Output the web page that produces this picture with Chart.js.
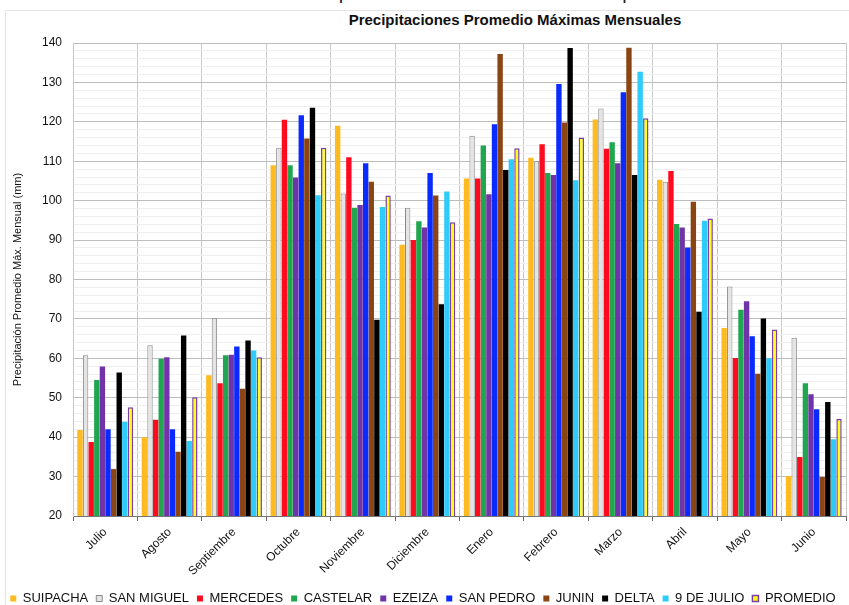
<!DOCTYPE html>
<html>
<head>
<meta charset="utf-8">
<script src="https://cdn.jsdelivr.net/npm/chart.js@4.4.1/dist/chart.umd.min.js"></script>
<style>
    html, body { margin: 0; padding: 0; width: 849px; height: 605px; overflow: hidden; background: #fff; font-family: 'Liberation Sans', Arial, sans-serif; }
    #frame { position: absolute; left: 5px; top: 10px; width: 900px; height: 700px; border-left: 1px solid #e4e4e4; border-top: 1px solid #e4e4e4; }
    #caption { position: absolute; top: -19px; left: 0; width: 900px; text-align: center; font-size: 20px; color: #222; white-space: nowrap; }
    #title { position: absolute; top: 11px; left: 0; width: 1030px; text-align: center; font-weight: bold; font-size: 15px; color: #111; white-space: nowrap; }
    #wrap { position: absolute; left: 0; top: 0; width: 849px; height: 615px; }
</style>
</head>
<body>
<div id="caption">Gráfico 1 - Precipitaciones máximas mensuales promedio</div>
<div id="frame"></div>
<div id="title">Precipitaciones Promedio Máximas Mensuales</div>
<div id="wrap"><canvas id="precipChart"></canvas></div>
<script>
// Datos (mm)
const meses = ['Julio', 'Agosto', 'Septiembre', 'Octubre', 'Noviembre', 'Diciembre',
               'Enero', 'Febrero', 'Marzo', 'Abril', 'Mayo', 'Junio'];

const suipacha  = [41.8, 40.0, 55.7, 109.0, 119.0, 88.8, 105.6, 110.9, 120.6, 105.3, 67.7, 30.1];
const sanMiguel = [60.8, 63.3, 70.2, 113.4, 101.8, 98.2, 116.5, 110.0, 123.4, 104.8, 78.2, 65.2];
const mercedes  = [38.8, 44.4, 53.7, 120.5, 111.0, 90.0, 105.6, 114.3, 113.2, 107.5, 60.1, 35.0];
const castelar  = [54.5, 59.9, 60.8, 109.0, 98.2, 94.8, 114.0, 107.0, 114.8, 94.1, 72.3, 53.7];
const ezeiza    = [57.9, 60.3, 60.9, 105.9, 98.9, 93.2, 101.6, 106.5, 109.5, 93.2, 74.5, 50.9];
const sanPedro  = [42.0, 42.0, 63.0, 121.7, 109.5, 107.0, 119.4, 129.6, 127.5, 88.1, 65.6, 47.1];
const junin     = [31.9, 36.3, 52.3, 115.8, 104.8, 101.3, 137.2, 119.8, 138.8, 99.7, 56.1, 29.9];
const delta     = [56.4, 65.8, 64.5, 123.6, 69.8, 73.7, 107.8, 138.7, 106.5, 71.8, 70.1, 48.9];
const nueveJulio = [43.9, 39.0, 62.0, 101.4, 98.4, 102.3, 110.5, 105.2, 132.7, 94.9, 60.0, 39.5];
const promedio  = [47.6, 50.1, 60.3, 113.4, 101.3, 94.5, 113.3, 116.0, 120.9, 95.5, 67.3, 44.6];

const FONT = "'Liberation Sans', Arial, sans-serif";

const serie = (label, data, bg, border, bw) => ({
    label: label,
    data: data,
    backgroundColor: bg,
    borderColor: border || bg,
    borderWidth: bw || 0,
    borderSkipped: false,
    categoryPercentage: 0.87,
    barPercentage: 0.96
});

const datasets = [
    serie('SUIPACHA', suipacha, '#FDBA21'),
    serie('SAN MIGUEL', sanMiguel, '#E4E4E4', '#8A8A8A', 1),
    serie('MERCEDES', mercedes, '#FF0A1E'),
    serie('CASTELAR', castelar, '#21A650'),
    serie('EZEIZA', ezeiza, '#7034A8'),
    serie('SAN PEDRO', sanPedro, '#0A2BFF'),
    serie('JUNIN', junin, '#8B4513'),
    serie('DELTA', delta, '#000000'),
    serie('9 DE JULIO', nueveJulio, '#2ECCFA'),
    serie('PROMEDIO', promedio, '#FFFF1A', '#7B3FA6', 1.5)
];

new Chart(document.getElementById('precipChart'), {
    type: 'bar',
    data: { labels: meses, datasets: datasets },
    options: {
        responsive: true,
        maintainAspectRatio: false,
        animation: false,
        layout: { padding: { top: 43, right: 3, left: 0, bottom: 0 } },
        plugins: {
            legend: {
                position: 'bottom',
                labels: {
                    boxWidth: 6,
                    boxHeight: 6,
                    padding: 8,
                    color: '#111',
                    font: { family: FONT, size: 13 }
                }
            },
            tooltip: { enabled: false }
        },
        scales: {
            x: {
                grid: { offset: true, color: '#c8c8c8', tickLength: 5, tickColor: '#666' },
                border: { color: '#777' },
                ticks: {
                    color: '#111',
                    minRotation: 45,
                    maxRotation: 45,
                    padding: 4,
                    font: { family: FONT, size: 12 }
                },
                afterFit: (scale) => { scale.height = 68; }
            },
            y: {
                min: 20,
                max: 140,
                grid: {
                    drawTicks: false,
                    color: (ctx) => (ctx.tick && ctx.tick.value % 10 === 0) ? '#bdbdbd' : '#efefef'
                },
                border: { color: '#c8c8c8' },
                ticks: {
                    stepSize: 2,
                    autoSkip: false,
                    padding: 11,
                    color: '#111',
                    font: { family: FONT, size: 12 },
                    callback: (val) => val % 10 === 0 ? val : ''
                },
                title: {
                    display: true,
                    text: 'Precipitación Promedio Máx. Mensual (mm)',
                    color: '#111',
                    padding: { top: 11, bottom: 0 },
                    font: { family: FONT, size: 11 }
                },
                afterFit: (scale) => { scale.width = 73; }
            }
        }
    }
});
</script>
</body>
</html>
